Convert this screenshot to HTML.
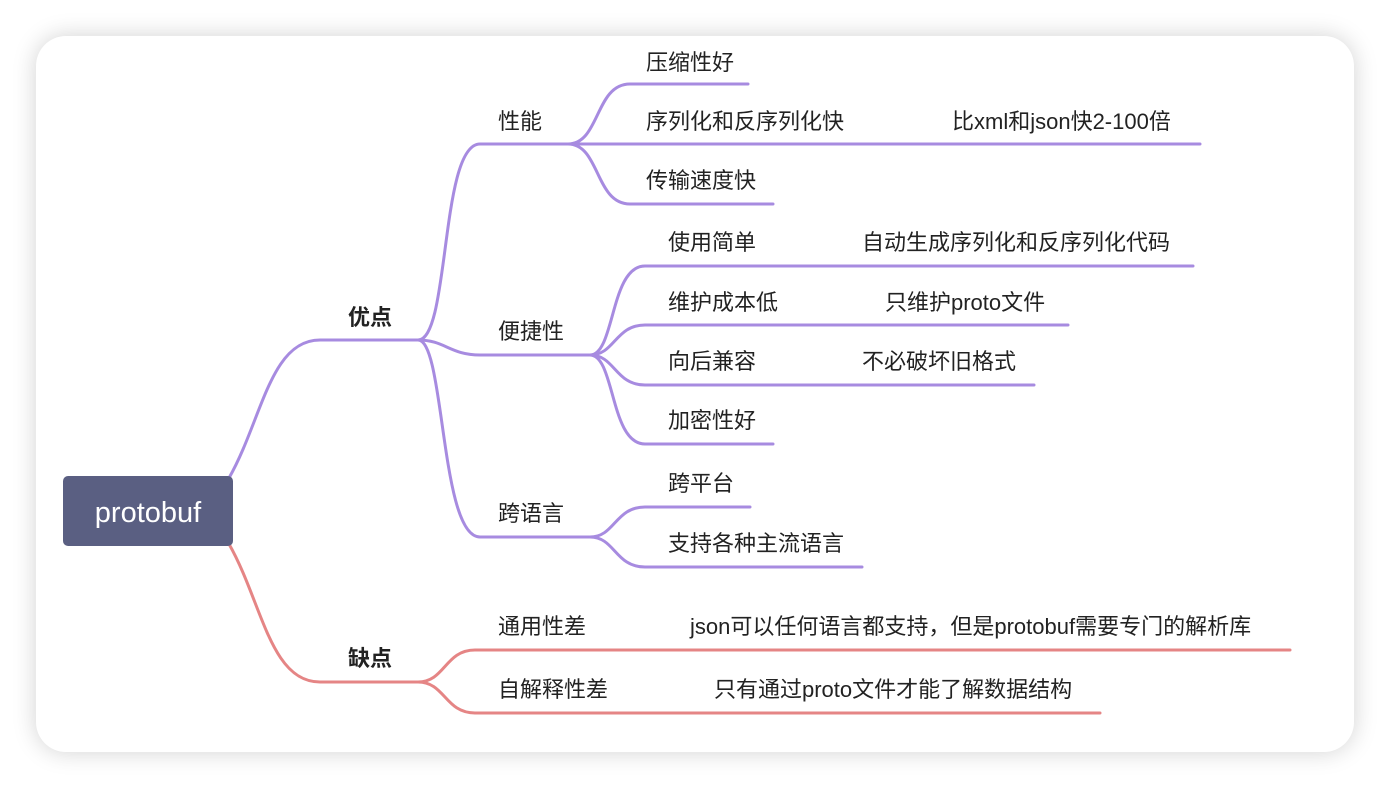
<!DOCTYPE html>
<html><head><meta charset="utf-8"><style>
html,body{margin:0;padding:0;background:#fff;}
body{width:1390px;height:788px;overflow:hidden;position:relative;}
.card{position:absolute;left:36px;top:36px;width:1318px;height:716px;background:#fff;border-radius:30px;box-shadow:0 0 24px rgba(0,0,0,0.18);}
svg{position:absolute;left:0;top:0;}
text{font-family:"Liberation Sans","Noto Sans CJK SC",sans-serif;font-size:22px;fill:#222;}
</style></head><body>
<div class="card"></div>
<svg width="1390" height="788" viewBox="0 0 1390 788">
<g fill="none" stroke="#a78be0" stroke-width="3" stroke-linecap="round">
<path d="M229,478 C262,420 270,340 320,340 L418,340"/>
<path d="M418,340 C450,340 440,144 480,144 L568,144"/>
<path d="M418,340 C445,340 450,355 480,355 L590,355"/>
<path d="M418,340 C445,340 440,537 480,537 L590,537"/>
<path d="M568,144 C600,144 595,84 630,84 L748,84"/>
<path d="M568,144 L1200,144"/>
<path d="M568,144 C600,144 595,204 630,204 L773,204"/>
<path d="M590,355 C615,355 610,266 645,266 L1193,266"/>
<path d="M590,355 C615,355 615,325 645,325 L1068,325"/>
<path d="M590,355 C615,355 615,385 645,385 L1034,385"/>
<path d="M590,355 C615,355 610,444 645,444 L773,444"/>
<path d="M590,537 C615,537 615,507 645,507 L750,507"/>
<path d="M590,537 C615,537 615,567 645,567 L862,567"/>
</g>
<g fill="none" stroke="#e58585" stroke-width="3" stroke-linecap="round">
<path d="M229,544 C262,602 270,682 320,682 L418,682"/>
<path d="M418,682 C445,682 445,650 475,650 L1290,650"/>
<path d="M418,682 C445,682 445,713 475,713 L1100,713"/>
</g>
<rect x="63" y="476" width="170" height="70" rx="5" fill="#5a5f82"/>
<text x="148" y="522" text-anchor="middle" style="font-size:29px;fill:#fff">protobuf</text>
<text x="348" y="325" style="font-weight:bold">优点</text>
<text x="348" y="666" style="font-weight:bold">缺点</text>
<text x="498" y="129">性能</text>
<text x="498" y="339">便捷性</text>
<text x="498" y="521">跨语言</text>
<text x="646" y="70">压缩性好</text>
<text x="646" y="129">序列化和反序列化快</text>
<text x="952" y="129">比xml和json快2-100倍</text>
<text x="646" y="188">传输速度快</text>
<text x="668" y="250">使用简单</text>
<text x="862" y="250">自动生成序列化和反序列化代码</text>
<text x="668" y="310">维护成本低</text>
<text x="885" y="310">只维护proto文件</text>
<text x="668" y="369">向后兼容</text>
<text x="862" y="369">不必破坏旧格式</text>
<text x="668" y="428">加密性好</text>
<text x="668" y="491">跨平台</text>
<text x="668" y="551">支持各种主流语言</text>
<text x="498" y="634">通用性差</text>
<text x="690" y="634">json可以任何语言都支持，但是protobuf需要专门的解析库</text>
<text x="498" y="697">自解释性差</text>
<text x="714" y="697">只有通过proto文件才能了解数据结构</text>
</svg>
</body></html>
